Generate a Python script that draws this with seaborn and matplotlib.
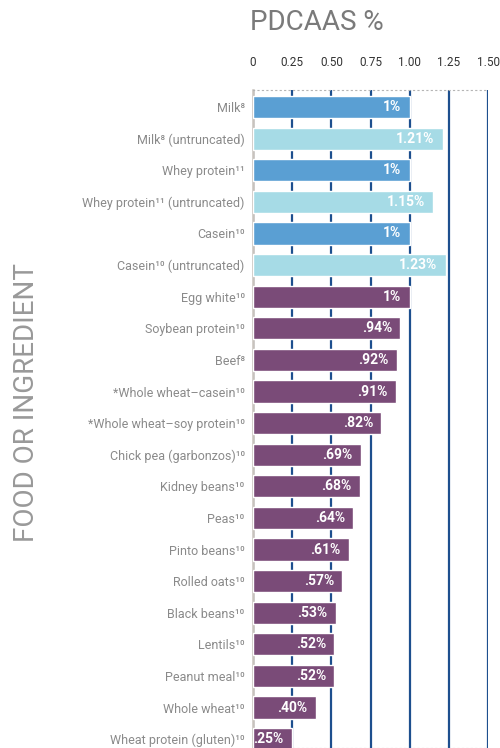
import numpy as np
import pandas as pd
import seaborn as sns
import matplotlib.pyplot as plt

# Dados
foods = ['Milk⁸', 'Milk⁸ (untruncated)', 'Whey protein¹¹', 'Whey protein¹¹ (untruncated)',
         'Casein¹⁰', 'Casein¹⁰ (untruncated)', 'Egg white¹⁰', 'Soybean protein¹⁰', 'Beef⁸',
         '*Whole wheat–casein¹⁰', '*Whole wheat–soy protein¹⁰', 'Chick pea (garbonzos)¹⁰',
         'Kidney beans¹⁰', 'Peas¹⁰', 'Pinto beans¹⁰', 'Rolled oats¹⁰', 'Black beans¹⁰',
         'Lentils¹⁰', 'Peanut meal¹⁰', 'Whole wheat¹⁰', 'Wheat protein (gluten)¹⁰']
pdcaas = [1.0, 1.21, 1.0, 1.15, 1.0, 1.23, 1.0, 0.94, 0.92, 0.91, 0.82, 0.69,
          0.68, 0.64, 0.61, 0.57, 0.53, 0.52, 0.52, 0.40, 0.25]
value_labels = ['1%', '1.21%', '1%', '1.15%', '1%', '1.23%', '1%', '.94%', '.92%', '.91%',
                '.82%', '.69%', '.68%', '.64%', '.61%', '.57%', '.53%', '.52%', '.52%',
                '.40%', '.25%']
kinds = ['dairy', 'untruncated'] * 3 + ['other'] * 15
x_ticks = [0, 0.25, 0.5, 0.75, 1.0, 1.25, 1.5]
x_tick_labels = ['0', '0.25', '0.50', '0.75', '1.00', '1.25', '1.50']

palette = {'dairy': '#5a9fd3', 'untruncated': '#a6dbe6', 'other': '#7a4b78'}

df = pd.DataFrame({'food': foods, 'pdcaas': pdcaas, 'kind': kinds})

sns.set_style('white')
plt.rcParams['font.family'] = ['Roboto', 'DejaVu Sans']

fig = plt.figure(figsize=(5, 7.48), dpi=100)
ax = fig.add_axes([253 / 500, 0.0, 235 / 500, 1 - 90 / 748])

sns.barplot(data=df, x='pdcaas', y='food', hue='kind', palette=palette, dodge=False,
            legend=False, width=0.7, saturation=1, ax=ax, zorder=3)

# Rótulos dos valores dentro das barras
for i, (v, lab) in enumerate(zip(pdcaas, value_labels)):
    ax.annotate(lab, xy=(v, i), xytext=(-6, 0), textcoords='offset points',
                ha='right', va='center', color='white', fontsize=10, fontweight='bold',
                zorder=4)

ax.set_xlim(0, 1.5)
ax.set_ylim(20.28, -0.54)
ax.xaxis.tick_top()
ax.set_xticks(x_ticks)
ax.set_xticklabels(x_tick_labels)
ax.tick_params(axis='x', length=0, pad=15, labelsize=8.5, labelcolor='#333333')
ax.tick_params(axis='y', length=0, pad=6, labelsize=9, labelcolor='#8a8a8a')
ax.set_xlabel('')
ax.set_ylabel('')

ax.xaxis.grid(True, color='#1d4f8e', lw=1.6)
ax.yaxis.grid(False)
ax.set_axisbelow(True)

for s in ['top', 'bottom']:
    ax.spines[s].set_linestyle((0, (1, 3)))
    ax.spines[s].set_color('#b5b5b5')
    ax.spines[s].set_linewidth(0.8)
ax.spines['right'].set_visible(False)
ax.spines['left'].set_color('#c8c3bd')
ax.spines['left'].set_linewidth(1.8)

fig.text(250 / 500, 1 - 22 / 748, 'PDCAAS %', ha='left', va='center',
         fontsize=20, color='#7a7a7a')
fig.text(27 / 500, 1 - 403 / 748, 'FOOD OR INGREDIENT', rotation=90, ha='center',
         va='center', fontsize=20, color='#999999')

plt.savefig('out.png', dpi=100)
